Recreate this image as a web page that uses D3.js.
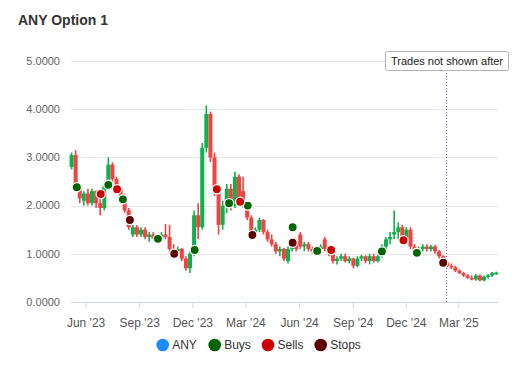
<!DOCTYPE html>
<html><head><meta charset="utf-8">
<script src="https://cdn.jsdelivr.net/npm/d3@7"></script>
<style>body{margin:0;background:#fff;font-family:"Liberation Sans",Arial,sans-serif}</style>
</head><body><svg id="c" width="530" height="380"></svg>
<script>
// ---- data ----
const title = "ANY Option 1";
const firstWeek = new Date(2023, 4, 8), afterLastWeek = new Date(2025, 4, 8);
const opens = [2.8,3.05,2.4,2.1,2.25,2.05,2.3,2.05,1.95,2.4,
 2.85,2.55,2.35,2.2,1.9,1.4,1.55,1.4,1.5,1.35,
 1.4,1.32,1.3,1.4,1.35,1.1,1.05,1.1,0.9,0.7,
 1.0,1.8,1.55,3.2,3.9,3.0,2.3,1.6,2.0,2.35,
 2.0,2.6,2.3,2.0,1.75,1.45,1.5,1.7,1.45,1.3,
 1.2,1.05,1.1,0.85,1.1,1.25,1.4,1.15,1.2,1.1,
 1.05,1.1,1.3,1.1,1.0,0.85,0.9,0.95,0.85,0.9,
 0.75,0.9,0.95,0.85,0.95,0.85,0.95,1.15,1.3,1.4,
 1.45,1.55,1.3,1.5,1.15,1.05,1.1,1.15,1.1,1.15,
 1.05,0.95,0.82,0.75,0.72,0.65,0.6,0.55,0.5,0.47,
 0.55,0.45,0.52,0.55,0.6];
const highs = [3.1,3.15,2.45,2.3,2.35,2.35,2.32,2.2,2.45,3.0,
 2.9,2.6,2.4,2.25,1.95,1.6,1.6,1.55,1.55,1.45,
 1.45,1.4,1.45,1.62,1.6,1.2,1.15,1.12,0.95,1.05,
 1.9,2.05,3.3,4.08,3.95,3.1,2.4,2.1,2.45,2.45,
 2.7,2.65,2.6,2.05,1.8,1.55,1.75,1.72,1.5,1.4,
 1.25,1.15,1.12,1.15,1.3,1.3,1.45,1.25,1.25,1.15,
 1.15,1.2,1.35,1.15,1.05,0.95,1.0,1.0,0.95,0.92,
 0.95,0.98,0.97,1.0,1.0,0.98,1.2,1.35,1.45,1.9,
 1.65,1.6,1.55,1.55,1.2,1.15,1.2,1.2,1.18,1.18,
 1.08,0.97,0.85,0.8,0.75,0.68,0.62,0.58,0.55,0.58,
 0.57,0.55,0.58,0.62,0.63];
const lows = [2.75,2.4,2.05,2.0,2.0,2.0,1.95,1.8,1.9,2.35,
 2.5,2.3,2.15,1.85,1.5,1.35,1.35,1.35,1.3,1.25,
 1.3,1.22,1.25,1.3,1.05,1.0,0.95,0.85,0.65,0.6,
 0.95,1.3,1.5,3.1,2.9,2.2,1.4,1.5,1.85,1.9,
 1.95,2.0,1.95,1.7,1.4,1.35,1.45,1.4,1.25,1.15,
 1.0,0.95,0.85,0.8,1.05,1.05,1.1,1.05,1.05,1.0,
 1.0,1.05,1.05,0.95,0.8,0.78,0.85,0.82,0.8,0.7,
 0.72,0.85,0.8,0.78,0.82,0.82,0.92,1.1,1.2,1.3,
 1.3,1.25,1.25,1.1,1.0,1.0,1.05,1.05,1.05,1.0,
 0.9,0.8,0.72,0.68,0.62,0.58,0.52,0.48,0.45,0.44,
 0.43,0.43,0.48,0.52,0.56];
const closes = [3.05,2.45,2.15,2.25,2.05,2.3,2.05,1.95,2.4,2.85,
 2.55,2.35,2.2,1.9,1.55,1.55,1.4,1.5,1.35,1.4,
 1.32,1.3,1.4,1.35,1.1,1.05,1.1,0.9,0.7,1.0,
 1.8,1.55,3.2,3.9,3.0,2.3,1.6,2.0,2.35,2.0,
 2.6,2.1,2.0,1.75,1.45,1.5,1.7,1.45,1.3,1.2,
 1.05,1.1,0.9,1.1,1.25,1.1,1.15,1.2,1.1,1.05,
 1.1,1.15,1.1,1.0,0.85,0.9,0.95,0.85,0.9,0.75,
 0.9,0.95,0.85,0.95,0.85,0.95,1.15,1.3,1.35,1.45,
 1.55,1.3,1.5,1.15,1.05,1.1,1.15,1.1,1.15,1.05,
 0.95,0.82,0.75,0.72,0.65,0.6,0.55,0.5,0.47,0.55,
 0.45,0.52,0.55,0.6,0.61];

const buyDates = ["2023-05-17","2023-07-10","2023-08-04","2023-10-03","2023-12-05","2024-02-02","2024-03-05","2024-05-21","2024-07-02","2024-10-21","2024-12-20"];
const buyPrices = [2.38,2.43,2.13,1.31,1.08,2.05,2.0,1.55,1.06,1.05,1.02];
const sellDates = ["2023-06-27","2023-07-25","2024-01-12","2024-02-21","2024-07-26","2024-11-27"];
const sellPrices = [2.24,2.34,2.34,2.08,1.08,1.28];
const stopDates = ["2023-08-16","2023-10-31","2024-03-13","2024-05-21","2025-02-03"];
const stopPrices = [1.70,1.0,1.39,1.23,0.815];

const cutoffDate = "2025-02-08";
const cutoffLabel = "Trades not shown after";
const yTicks = [0,1,2,3,4,5];
const xTickDates = ["2023-06-01","2023-09-01","2023-12-01","2024-03-01","2024-06-01","2024-09-01","2024-12-01","2025-03-01"];
const legendNames = ["ANY","Buys","Sells","Stops"];
const legendColors = ["#1a8cff","#006400","#cc0000","#5e0000"];

// ---- chart ----
const parse = d3.timeParse("%Y-%m-%d");
const svg = d3.select("#c");
const L = 71, R = 498, T = 61, B = 302;
const x = d3.scaleTime().domain([new Date(2023,4,7), new Date(2025,4,8)]).range([L, R]);
const y = d3.scaleLinear().domain([0,5]).range([B, T]);
const weeks = d3.timeMonday.range(firstWeek, afterLastWeek);
const candles = weeks.map((d,i)=>({d, o:opens[i], h:highs[i], l:lows[i], c:closes[i]}));

svg.append("text").attr("x",18).attr("y",25).attr("font-size",14).attr("font-weight","bold").attr("fill","#333").text(title);

// grid
svg.append("g").selectAll("line").data(yTicks).join("line")
 .attr("x1",L).attr("x2",R).attr("y1",d=>Math.round(y(d))+0.5).attr("y2",d=>Math.round(y(d))+0.5)
 .attr("stroke",d=>d===0?"#ccd6eb":"#e6e6e6");
svg.append("g").selectAll("text").data(yTicks).join("text")
 .attr("x",60).attr("y",d=>y(d)).attr("dy","0.35em").attr("text-anchor","end")
 .attr("font-size",11).attr("fill","#666").text(d3.format(".4f"));

// x axis
const xt = xTickDates.map(parse);
const xg = svg.append("g").attr("transform",`translate(0,${B})`);
const xAxis = d3.axisBottom(x).tickValues(xt).tickSize(6).tickSizeOuter(0).tickFormat(d3.timeFormat("%b '%y"));
xg.call(xAxis);
xg.select(".domain").remove();
xg.selectAll(".tick line").attr("stroke","#ccd6eb");
xg.selectAll(".tick text").attr("font-size",12).attr("fill","#555").attr("font-family","Liberation Sans, Arial, sans-serif").attr("dy","1.3em");

// candles
const up = "#0fb14c", dn = "#f04343";
const cg = svg.append("g");
cg.selectAll("line").data(candles).join("line")
 .attr("x1",d=>x(d.d)).attr("x2",d=>x(d.d)).attr("y1",d=>y(d.h)).attr("y2",d=>y(d.l))
 .attr("stroke",d=>d.c>=d.o?up:dn).attr("stroke-width",1.6);
cg.selectAll("rect").data(candles).join("rect")
 .attr("x",d=>x(d.d)-2).attr("width",4)
 .attr("y",d=>y(Math.max(d.o,d.c))).attr("height",d=>Math.max(1.5,Math.abs(y(d.o)-y(d.c))))
 .attr("fill",d=>d.c>=d.o?up:dn);

// cutoff line
const cx = Math.round(x(parse(cutoffDate)))+0.5;
svg.append("line").attr("x1",cx).attr("x2",cx).attr("y1",70).attr("y2",B)
 .attr("stroke","#6b6bea").attr("stroke-dasharray","1,2");

// markers
function markers(dates, prices, color){
  svg.append("g").selectAll("circle").data(dates.map((d,i)=>({d:parse(d),p:prices[i]}))).join("circle")
   .attr("cx",d=>x(d.d)).attr("cy",d=>y(d.p)).attr("r",4.6)
   .attr("fill",color).attr("stroke","#fff").attr("stroke-width",1.3);
}
markers(buyDates,buyPrices,legendColors[1]);
markers(sellDates,sellPrices,legendColors[2]);
markers(stopDates,stopPrices,legendColors[3]);

// annotation box
const bw = 123, bh = 19;
svg.append("rect").attr("x",cx-bw/2+0.5).attr("y",51.5).attr("width",bw).attr("height",bh).attr("rx",2)
 .attr("fill","#fff").attr("stroke","#b3b3b3");
svg.append("text").attr("x",cx+0.5).attr("y",65).attr("text-anchor","middle").attr("font-size",11).attr("fill","#222").text(cutoffLabel);

// legend
const lx = [162.7,214.7,268,320.7];
const lg = svg.append("g");
legendNames.forEach((n,i)=>{
  lg.append("circle").attr("cx",lx[i]).attr("cy",345).attr("r",6.3).attr("fill",legendColors[i]);
  lg.append("text").attr("x",lx[i]+9.5).attr("y",349.2).attr("font-size",12).attr("fill","#333").text(n);
});
</script></body></html>
